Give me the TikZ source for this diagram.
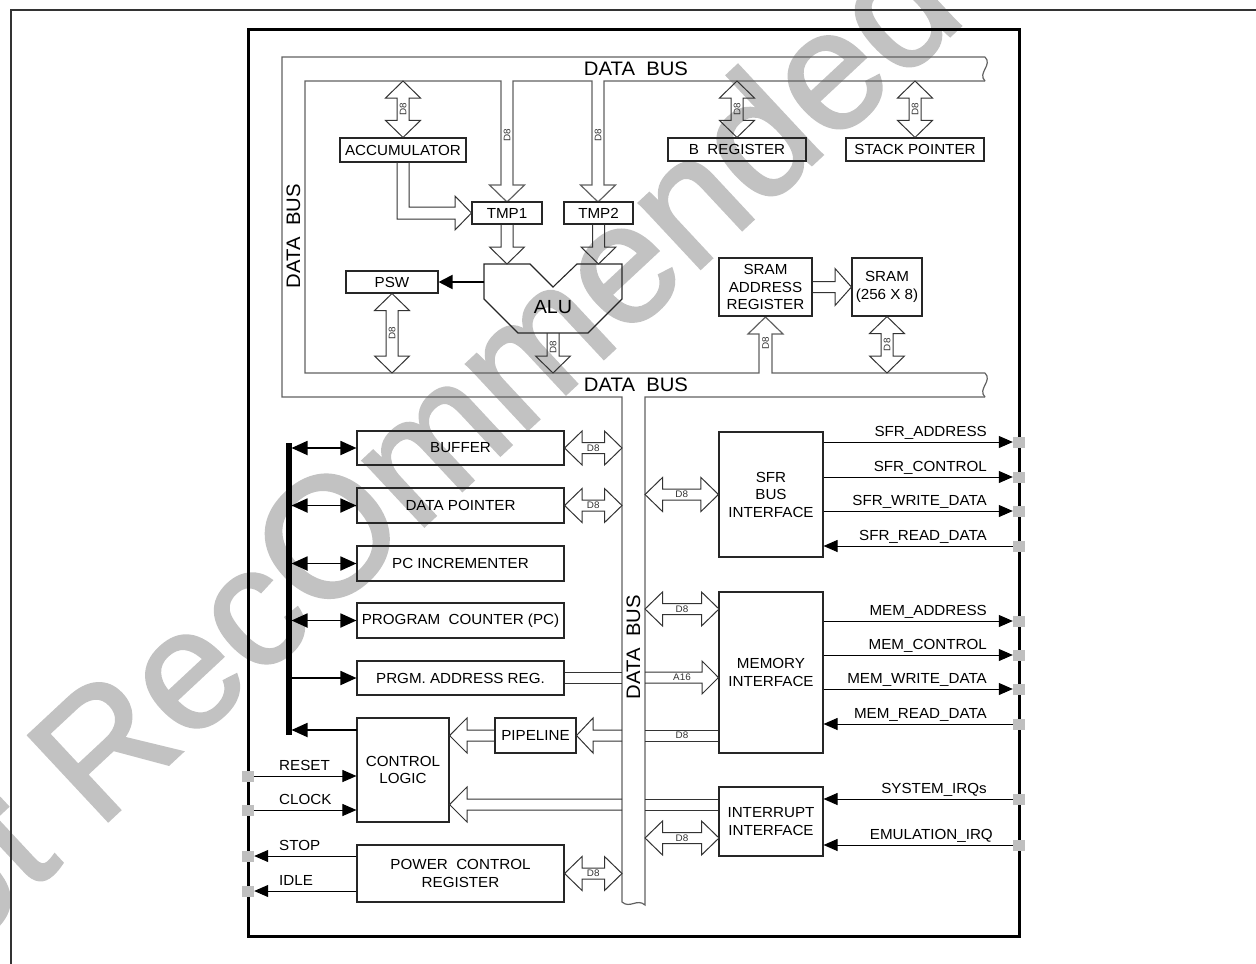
\documentclass[tikz,border=0pt]{standalone}
\usepackage{fontspec}
\setmainfont{Liberation Sans}[FakeStretch=1.04]
\newfontfamily\mywmfont{Liberation Sans}[FakeBold=1.6]
\usetikzlibrary{arrows.meta,calc}
\newcommand\myboxfont{\fontsize{14.6}{17.5}\selectfont}
\newcommand\mybusfont{\fontsize{19.5}{22}\selectfont}
\newcommand\mysmallfont{\fontsize{9.5}{10}\selectfont}
\newcommand\myalufont{\fontsize{19}{22}\selectfont}
\newcommand\VDbl[3]{%
 \draw[hollow] let \p1=(#1),\p2=(#2) in (\x1-6pt,\y1-17pt) -- (\x1-17.5pt,\y1-17pt) -- (\x1,\y1) -- (\x1+17.5pt,\y1-17pt) -- (\x1+6pt,\y1-17pt) -- (\x1+6pt,\y2+17pt) -- (\x1+17.5pt,\y2+17pt) -- (\x1,\y2) -- (\x1-17.5pt,\y2+17pt) -- (\x1-6pt,\y2+17pt) -- cycle;
 \node[dlbl,rotate=90] at ($(#1)!0.5!(#2)$) {#3};}
\newcommand\VDown[2]{%
 \draw[hollow] let \p1=(#1),\p2=(#2) in (\x1-6pt,\y1) -- (\x1-6pt,\y2+17pt) -- (\x1-17.5pt,\y2+17pt) -- (\x1,\y2) -- (\x1+17.5pt,\y2+17pt) -- (\x1+6pt,\y2+17pt) -- (\x1+6pt,\y1);}
\newcommand\HDbl[3]{%
 \draw[hollow] let \p1=(#1),\p2=(#2) in (\x1+17.5pt,\y1+5.5pt) -- (\x1+17.5pt,\y1+17pt) -- (\x1,\y1) -- (\x1+17.5pt,\y1-17pt) -- (\x1+17.5pt,\y1-5.5pt) -- (\x2-17.5pt,\y1-5.5pt) -- (\x2-17.5pt,\y1-17pt) -- (\x2,\y1) -- (\x2-17.5pt,\y1+17pt) -- (\x2-17.5pt,\y1+5.5pt) -- cycle;
 \node[dlbl] at ($(#1)!0.5!(#2)$) {#3};}
\begin{document}
\begin{tikzpicture}[x=1pt,y=-1pt,line join=miter,
 box/.style={draw=black!85,line width=1.1pt,inner sep=0pt,align=center,font=\myboxfont},
 sz/.style 2 args={minimum width=#1pt,minimum height=#2pt},
 bus/.style={draw=black!62,line width=1.2pt},
 hollow/.style={draw=black!80,line width=1pt},
 lbl/.style={font=\myboxfont,inner sep=0pt},
 buslbl/.style={font=\mybusfont,inner sep=0pt},
 dlbl/.style={font=\mysmallfont,inner sep=0pt,text=black!80},
 sig/.style={draw=black,line width=1pt,-{Triangle[length=14pt,width=12pt]}},
 pin/.style={fill=black!25,draw=none,minimum width=12pt,minimum height=11pt,inner sep=0pt},
 thk/.style={draw=black,line width=1.8pt},
 tipT/.tip={Triangle[length=16pt,width=14pt]},
 wm/.style={font=\mywmfont\fontsize{170}{170}\selectfont,text=black!24,inner sep=0pt}]
\useasboundingbox (0,0) rectangle (1256,964);
% watermark
\begin{scope}
\clip (0,0) rectangle (1256,964);
\node[wm,rotate=43,anchor=base west] (wmark) at (-130,1043) {Not RecOmmended for};
\end{scope}
% frames
\draw[line width=2pt,black!80] (11,964) -- (11,9.5) -- (1256,9.5);
\draw[line width=3pt] (248,29) rectangle (1019,936);
% coordinates
\coordinate (busA) at (0,81);
\coordinate (busB) at (0,373);
\coordinate (vbL) at (622,0);
\coordinate (vbR) at (645,0);
\coordinate (aluTop) at (0,264);
\coordinate (aluB) at (553,333);
\coordinate (aluL) at (484,282);
% data bus
\draw[bus] (985,57) -- (282,57) -- (282,397) -- (622,397) -- (622,902) .. controls (630,909) and (637,898) .. (645,905) -- (645,397) -- (985,397);
\draw[bus] (985,57) .. controls (993,65) and (977,73) .. (985,81);
\draw[bus] (985,373) .. controls (993,381) and (977,389) .. (985,397);
\draw[bus] (985,81) -- (604,81) -- (604,185) -- (615.5,185) -- (598,202) -- (580.5,185) -- (592,185) -- (592,81) -- (513,81) -- (513,185) -- (524.5,185) -- (507,202) -- (489.5,185) -- (501,185) -- (501,81) -- (305,81) -- (305,373) -- (759,373) -- (759,334) -- (748,334) -- (765.5,317) -- (783,334) -- (772,334) -- (772,373) -- (985,373);
\node[buslbl] (dbTop) at (636,68.5) {DATA\ \ BUS};
\node[buslbl] (dbBot) at (636,385) {DATA\ \ BUS};
\node[buslbl,rotate=90] (dbLeft) at (293.5,236) {DATA\ \ BUS};
\node[buslbl,rotate=90] (dbVert) at (633.5,647) {DATA\ \ BUS};
\node[dlbl,rotate=90] at (507,135) {D8};
\node[dlbl,rotate=90] at (598,135) {D8};
\node[dlbl,rotate=90] at (765.5,343) {D8};
% upper boxes
\node[box,sz={126}{24}] (acc) at (403,150) {ACCUMULATOR};
\node[box,sz={70}{22}] (tmp1) at (507,213) {TMP1};
\node[box,sz={69}{22}] (tmp2) at (598.5,213) {TMP2};
\node[box,sz={138}{23}] (breg) at (737,149.5) {B\ \ REGISTER};
\node[box,sz={138}{23}] (sp) at (915,149.5) {STACK POINTER};
\node[box,sz={92}{22}] (psw) at (392,282) {PSW};
\node[box,sz={93}{58}] (sar) at (765.5,287) {SRAM\\ADDRESS\\REGISTER};
\node[box,sz={70}{58}] (sram) at (887,287) {SRAM\\(256 X 8)};
\draw[draw=black!85,line width=1.1pt] (484,264) -- (530,264) -- (553,287) -- (577,264) -- (622,264) -- (622,299) -- (588,333) -- (518,333) -- (484,299) -- cycle;
\node[font=\myalufont,inner sep=0pt] (alu) at (553,307) {ALU};
% upper connectors
\VDbl{acc.north |- busA}{acc.north}{D8}
\VDbl{breg.north |- busA}{breg.north}{D8}
\VDbl{sp.north |- busA}{sp.north}{D8}
\VDbl{psw.south}{psw.south |- busB}{D8}
\VDbl{sram.south}{sram.south |- busB}{D8}
\VDown{aluB}{aluB |- busB}
\node[dlbl,rotate=90] at (553,347) {D8};
\VDown{tmp1.south}{tmp1.south |- aluTop}
\VDown{tmp2.south}{tmp2.south |- aluTop}
\draw[hollow] (397,162) -- (397,219) -- (455,219) -- (455,230) -- (tmp1.west) -- (455,196) -- (455,207) -- (409,207) -- (409,162);
\draw[hollow] (sar.east |- 0,281.5) -- (835,281.5) -- (835,268.5) -- (sram.west) -- (835,305.5) -- (835,292.5) -- (sar.east |- 0,292.5);
\draw[line width=2pt,-{Triangle[length=14pt,width=14pt]}] (aluL) -- (psw.east);
% lower left boxes
\node[box,sz={207}{34}] (buf) at (460.5,448) {BUFFER};
\node[box,sz={207}{35}] (dp) at (460.5,505.5) {DATA POINTER};
\node[box,sz={207}{35}] (pci) at (460.5,563.5) {PC INCREMENTER};
\node[box,sz={207}{35}] (pc) at (460.5,620.5) {PROGRAM\ \ COUNTER (PC)};
\node[box,sz={207}{34}] (par) at (460.5,678) {PRGM. ADDRESS REG.};
\node[box,sz={92}{104}] (ctl) at (403,770) {CONTROL\\LOGIC};
\node[box,sz={81}{35}] (pipe) at (535.5,735.5) {PIPELINE};
\node[box,sz={207}{57}] (pcr) at (460.5,873.5) {POWER\ \ CONTROL\\REGISTER};
% lower right boxes
\node[box,sz={104}{125}] (sfr) at (771,494.5) {SFR\\BUS\\INTERFACE};
\node[box,sz={104}{161}] (mem) at (771,672.5) {MEMORY\\INTERFACE};
\node[box,sz={104}{69}] (intr) at (771,821.5) {INTERRUPT\\INTERFACE};
% thick internal bus
\coordinate (tbTop) at (288.5,443);
\coordinate (tbBot) at (288.5,735);
\coordinate (tbR) at (291.5,0);
\coordinate (ctlOut) at (357,730);
\draw[line width=6pt] (tbTop) -- (tbBot);
\draw[thk,tipT-tipT] (tbR |- buf.west) -- (buf.west);
\draw[thk,tipT-tipT] (tbR |- dp.west) -- (dp.west);
\draw[thk,tipT-tipT] (tbR |- pci.west) -- (pci.west);
\draw[thk,tipT-tipT] (tbR |- pc.west) -- (pc.west);
\draw[thk,-tipT] (tbR |- par.west) -- (par.west);
\draw[thk,-tipT] (ctlOut) -- (tbR |- ctlOut);
% hollow bus links
\coordinate (memD) at (719,609);
\coordinate (intD) at (719,838);
\HDbl{buf.east}{buf.east -| vbL}{D8}
\HDbl{dp.east}{dp.east -| vbL}{D8}
\HDbl{pcr.east}{pcr.east -| vbL}{D8}
\HDbl{sfr.west -| vbR}{sfr.west}{D8}
\HDbl{memD -| vbR}{memD}{D8}
\HDbl{intD -| vbR}{intD}{D8}
% A16
\draw[hollow] (par.east |- 0,672) -- (vbL |- 0,672) (par.east |- 0,683) -- (vbL |- 0,683);
\draw[hollow] (vbR |- 0,672) -- (702,672) -- (702,661) -- (mem.west |- 0,677.5) -- (702,694) -- (702,683) -- (vbR |- 0,683);
\node[dlbl] at (682,677.5) {A16};
% memory -> pipeline -> control
\draw[hollow] (mem.west |- 0,730) -- (vbR |- 0,730) (mem.west |- 0,741) -- (vbR |- 0,741);
\draw[hollow] (vbL |- 0,730) -- (593,730) -- (593,718) -- (pipe.east) -- (593,753) -- (593,741) -- (vbL |- 0,741);
\node[dlbl] at (682,735.5) {D8};
\draw[hollow] (pipe.west |- 0,730) -- (467,730) -- (467,718) -- (ctl.east |- pipe.east) -- (467,753) -- (467,741) -- (pipe.west |- 0,741);
% interrupt -> control
\draw[hollow] (intr.west |- 0,799) -- (vbR |- 0,799) (intr.west |- 0,810) -- (vbR |- 0,810);
\draw[hollow] (vbL |- 0,799) -- (467,799) -- (467,787) -- (ctl.east |- 0,804.5) -- (467,822) -- (467,810) -- (vbL |- 0,810);
% right pins and signals
\node[pin] (pSA) at (1019,442) {};
\node[pin] (pSC) at (1019,477) {};
\node[pin] (pSW) at (1019,511) {};
\node[pin] (pSR) at (1019,546) {};
\node[pin] (pMA) at (1019,621) {};
\node[pin] (pMC) at (1019,655) {};
\node[pin] (pMW) at (1019,689) {};
\node[pin] (pMR) at (1019,724) {};
\node[pin] (pSI) at (1019,799) {};
\node[pin] (pEI) at (1019,845) {};
\draw[sig] (sfr.east |- pSA) -- (pSA.west);
\draw[sig] (sfr.east |- pSC) -- (pSC.west);
\draw[sig] (sfr.east |- pSW) -- (pSW.west);
\draw[sig] (pSR.west) -- (sfr.east |- pSR);
\draw[sig] (mem.east |- pMA) -- (pMA.west);
\draw[sig] (mem.east |- pMC) -- (pMC.west);
\draw[sig] (mem.east |- pMW) -- (pMW.west);
\draw[sig] (pMR.west) -- (mem.east |- pMR);
\draw[sig] (pSI.west) -- (intr.east |- pSI);
\draw[sig] (pEI.west) -- (intr.east |- pEI);
\node[lbl,anchor=base east] at (987,436) {SFR\_ADDRESS};
\node[lbl,anchor=base east] at (987,471) {SFR\_CONTROL};
\node[lbl,anchor=base east] at (987,505) {SFR\_WRITE\_DATA};
\node[lbl,anchor=base east] at (987,540) {SFR\_READ\_DATA};
\node[lbl,anchor=base east] at (987,615) {MEM\_ADDRESS};
\node[lbl,anchor=base east] at (987,649) {MEM\_CONTROL};
\node[lbl,anchor=base east] at (987,683) {MEM\_WRITE\_DATA};
\node[lbl,anchor=base east] at (987,718) {MEM\_READ\_DATA};
\node[lbl,anchor=base east] at (987,793) {SYSTEM\_IRQs};
\node[lbl,anchor=base east] at (993,839) {EMULATION\_IRQ};
% left pins and signals
\node[pin] (pRST) at (248,776) {};
\node[pin] (pCLK) at (248,810) {};
\node[pin] (pSTP) at (248,856) {};
\node[pin] (pIDL) at (248,891) {};
\draw[sig] (pRST.east) -- (ctl.west |- pRST);
\draw[sig] (pCLK.east) -- (ctl.west |- pCLK);
\draw[sig] (pcr.west |- pSTP) -- (pSTP.east);
\draw[sig] (pcr.west |- pIDL) -- (pIDL.east);
\node[lbl,anchor=base west] at (279,770) {RESET};
\node[lbl,anchor=base west] at (279,804) {CLOCK};
\node[lbl,anchor=base west] at (279,850) {STOP};
\node[lbl,anchor=base west] at (279,885) {IDLE};
\end{tikzpicture}
\end{document}
